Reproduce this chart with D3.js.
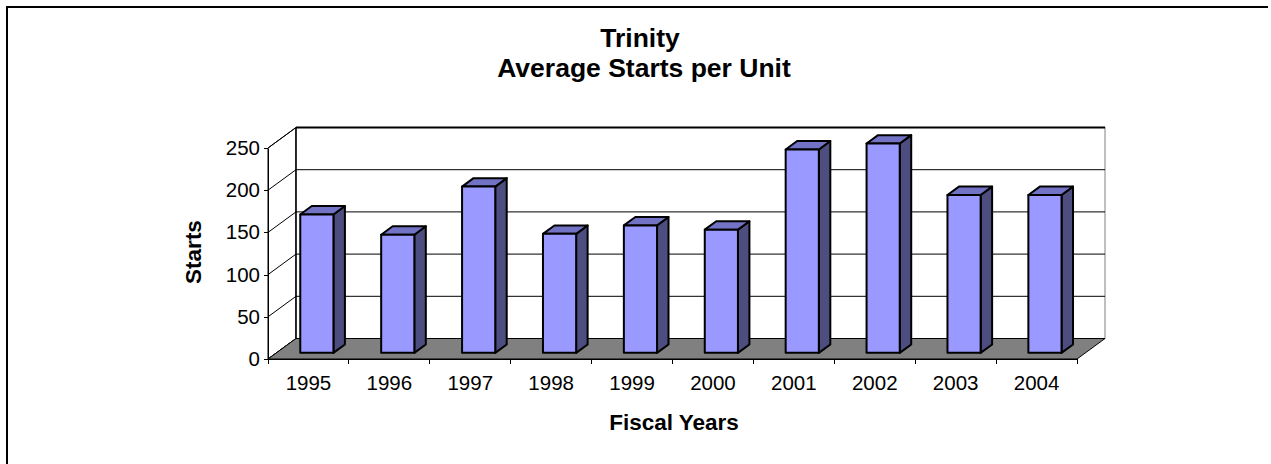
<!DOCTYPE html>
<meta charset="utf-8">
<style>
body { margin: 0; background: #fff; }
svg { font-family: "Liberation Sans", Arial, sans-serif; }
.axis path, .axis line { stroke: #000; shape-rendering: crispEdges; }
.axis text { font-size: 20.5px; fill: #000; }
.grid { stroke: #000; stroke-width: 1; fill: none; }
.bar { stroke: #000; stroke-width: 2; stroke-linejoin: round; }
</style>
<body>
<div id="chart"></div>
</body>
<script src="https://cdn.jsdelivr.net/npm/d3@7"></script>
<script>

// fiscal years and average starts per unit
var years = ["1995", "1996", "1997", "1998", "1999", "2000", "2001", "2002", "2003", "2004"];
var starts = [164, 140, 197, 141, 151, 146, 241, 248, 187, 187];
var yTicks = [0, 50, 100, 150, 200, 250];

var data = years.map(function(d, i) { return {year: d, value: starts[i]}; });

var width = 1271, height = 464;
var DX = 28, DY = 20.5;      // depth offset of the 3d box
var z0 = 0.3, z1 = 0.71;     // bar depth, front and back

var x = d3.scaleBand().domain(years).range([268, 1077]).paddingInner(0).paddingOuter(0);
var y = d3.scaleLinear().domain([0, 250]).range([359, 148]);

var svg = d3.select("#chart").append("svg")
    .attr("width", width)
    .attr("height", height);

// outer frame (only top and left show)
svg.append("path")
    .attr("d", "M7,470V7H1268")
    .attr("fill", "none")
    .attr("stroke", "#000")
    .attr("stroke-width", 2);

// left wall
svg.append("polygon")
    .attr("points", [[268, y(250)], [268 + DX, y(250) - DY], [268 + DX, y(0) - DY], [268, y(0)]].join(" "))
    .attr("fill", "#fff")
    .attr("stroke", "#000");

// back wall
svg.append("rect")
    .attr("x", 268 + DX)
    .attr("y", y(250) - DY)
    .attr("width", 1077 - 268)
    .attr("height", y(0) - y(250))
    .attr("fill", "#fff")
    .attr("stroke", "#808080");

// gridlines on both walls
yTicks.forEach(function(v) {
  svg.append("path")
      .attr("class", "grid")
      .attr("d", "M268," + y(v) + "L" + (268 + DX) + "," + (y(v) - DY) + "H" + (1077 + DX));
});
svg.append("line")
    .attr("x1", 268 + DX).attr("x2", 268 + DX)
    .attr("y1", y(250) - DY).attr("y2", y(0) - DY)
    .attr("stroke", "#000").attr("stroke-width", 1.5);
svg.append("line")
    .attr("x1", 268 + DX).attr("x2", 1077 + DX)
    .attr("y1", y(250) - DY).attr("y2", y(250) - DY)
    .attr("stroke", "#000").attr("stroke-width", 2);

// floor
svg.append("polygon")
    .attr("points", [[268, y(0)], [1077, y(0)], [1077 + DX, y(0) - DY], [268 + DX, y(0) - DY]].join(" "))
    .attr("fill", "#808080")
    .attr("stroke", "#000")
    .attr("stroke-width", 1);

// y axis
svg.append("g")
    .attr("class", "axis")
    .attr("transform", "translate(268,0)")
    .call(d3.axisLeft(y).tickValues(yTicks).tickSize(4).tickPadding(4).tickSizeOuter(0));

// x axis labels
var xAxis = svg.append("g")
    .attr("class", "axis")
    .attr("transform", "translate(0,359)")
    .call(d3.axisBottom(x).tickSize(0).tickPadding(16));
xAxis.select(".domain").remove();

// x tick marks at category boundaries
var bounds = years.map(function(d) { return x(d); }).concat([x.range()[1]]);
svg.append("g").selectAll("line")
    .data(bounds)
  .enter().append("line")
    .attr("x1", function(d) { return d; })
    .attr("x2", function(d) { return d; })
    .attr("y1", 359)
    .attr("y2", 364)
    .attr("stroke", "#000")
    .style("shape-rendering", "crispEdges");
svg.append("line")
    .attr("x1", 268).attr("x2", 1077)
    .attr("y1", 359).attr("y2", 359)
    .attr("stroke", "#000")
    .style("shape-rendering", "crispEdges");

// bars
var bw = x.bandwidth() * 0.41;
var bars = svg.append("g").selectAll("g")
    .data(data)
  .enter().append("g");

function geom(d) {
  var xl = x(d.year) + (x.bandwidth() - bw) / 2 + z0 * DX,
      xr = xl + bw,
      yt = y(d.value) - z0 * DY,
      yb = y(0) - z0 * DY,
      ddx = (z1 - z0) * DX,
      ddy = (z1 - z0) * DY;
  return {xl: xl, xr: xr, yt: yt, yb: yb, ddx: ddx, ddy: ddy};
}

bars.append("polygon")
    .attr("class", "bar")
    .attr("fill", "#4d4d80")
    .attr("points", function(d) {
      var g = geom(d);
      return [[g.xr, g.yt], [g.xr + g.ddx, g.yt - g.ddy], [g.xr + g.ddx, g.yb - g.ddy], [g.xr, g.yb]].join(" ");
    });

bars.append("polygon")
    .attr("class", "bar")
    .attr("fill", "#7373c6")
    .attr("points", function(d) {
      var g = geom(d);
      return [[g.xl, g.yt], [g.xl + g.ddx, g.yt - g.ddy], [g.xr + g.ddx, g.yt - g.ddy], [g.xr, g.yt]].join(" ");
    });

bars.append("rect")
    .attr("class", "bar")
    .attr("fill", "#9999ff")
    .attr("x", function(d) { return geom(d).xl; })
    .attr("y", function(d) { return geom(d).yt; })
    .attr("width", bw)
    .attr("height", function(d) { var g = geom(d); return g.yb - g.yt; });

// titles
svg.append("text")
    .attr("x", 640).attr("y", 47)
    .attr("text-anchor", "middle")
    .style("font-size", "26.5px").style("font-weight", "bold")
    .text("Trinity");
svg.append("text")
    .attr("x", 644).attr("y", 77)
    .attr("text-anchor", "middle")
    .style("font-size", "26.5px").style("font-weight", "bold")
    .text("Average Starts per Unit");

svg.append("text")
    .attr("x", 674).attr("y", 430)
    .attr("text-anchor", "middle")
    .style("font-size", "22.5px").style("font-weight", "bold")
    .text("Fiscal Years");

svg.append("text")
    .attr("transform", "translate(201,252) rotate(-90)")
    .attr("text-anchor", "middle")
    .style("font-size", "22.5px").style("font-weight", "bold")
    .text("Starts");

</script>
